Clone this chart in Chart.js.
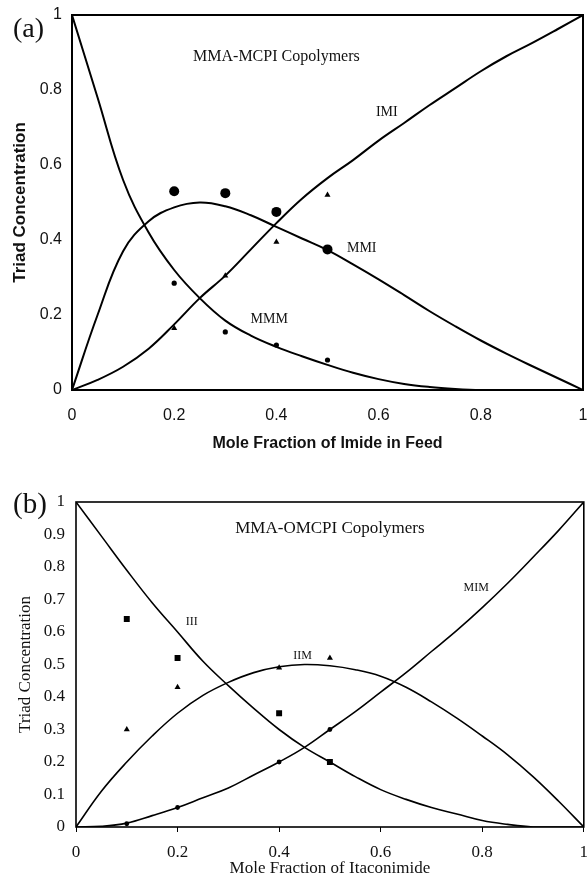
<!DOCTYPE html>
<html>
<head>
<meta charset="utf-8">
<script src="https://cdn.jsdelivr.net/npm/chart.js@4.4.1/dist/chart.umd.min.js"></script>
<style>
  html, body { margin: 0; padding: 0; background: #fff; overflow: hidden; }
  .wrap { position: absolute; left: 0; width: 588px; }
  #wrapA { top: 0; height: 460px; }
  #wrapB { top: 470px; height: 410px; }
</style>
</head>
<body>
<div id="wrapA" class="wrap"><canvas id="chartA"></canvas></div>
<div id="wrapB" class="wrap"><canvas id="chartB"></canvas></div>
<script>
// feed fractions the theory curves were read at
const feed = [0, 0.05, 0.1, 0.15, 0.2, 0.25, 0.3, 0.35, 0.4, 0.45, 0.5,
              0.55, 0.6, 0.65, 0.7, 0.75, 0.8, 0.85, 0.9, 0.95, 1];

// (a) MMA-MCPI copolymers - theory curves
const mmmCurve = [1, 0.78, 0.56, 0.42, 0.32, 0.245, 0.185, 0.145, 0.115, 0.09, 0.067,
                  0.046, 0.029, 0.016, 0.008, 0.003, 0, 0, 0, 0, 0];
const mmiCurve = [0, 0.2, 0.37, 0.45, 0.487, 0.5, 0.49, 0.466, 0.435, 0.404, 0.373,
                  0.335, 0.295, 0.253, 0.21, 0.17, 0.132, 0.097, 0.064, 0.032, 0];
const imiCurve = [0, 0.027, 0.062, 0.11, 0.175, 0.245, 0.305, 0.375, 0.445, 0.51, 0.565,
                  0.613, 0.665, 0.712, 0.76, 0.805, 0.85, 0.89, 0.925, 0.962, 1];
// (a) measured triads
const expFeedA = [0.2, 0.3, 0.4, 0.5];
const mmiExp = [0.53, 0.525, 0.475, 0.375];
const imiExp = [0.165, 0.305, 0.395, 0.52];
const mmmExp = [0.285, 0.155, 0.12, 0.08];

// (b) MMA-OMCPI copolymers - theory curves
const iiiCurve = [1, 0.895, 0.79, 0.69, 0.6, 0.51, 0.435, 0.365, 0.3, 0.245, 0.2,
                  0.155, 0.115, 0.085, 0.06, 0.04, 0.02, 0.008, 0, 0, 0];
const iimCurve = [0, 0.11, 0.2, 0.28, 0.35, 0.405, 0.445, 0.475, 0.493, 0.5, 0.496,
                  0.484, 0.464, 0.43, 0.385, 0.335, 0.28, 0.222, 0.155, 0.08, 0];
const mimCurve = [0, 0.002, 0.012, 0.035, 0.06, 0.09, 0.12, 0.16, 0.2, 0.245, 0.3,
                  0.355, 0.415, 0.475, 0.54, 0.605, 0.675, 0.75, 0.83, 0.912, 1];
// (b) measured triads
const expFeedB = [0.1, 0.2, 0.4, 0.5];
const iiiExp = [0.64, 0.52, 0.35, 0.2];
const iimExp = [0.3, 0.43, 0.49, 0.52];
const mimExp = [0.01, 0.06, 0.2, 0.3];

// tick labels
const ticksFifth = [0, 0.2, 0.4, 0.6, 0.8, 1];
const ticksTenth = [0, 0.1, 0.2, 0.3, 0.4, 0.5, 0.6, 0.7, 0.8, 0.9, 1];

// text written inside the plots, placed in data units
const notesA = [
  { text: 'MMA-MCPI Copolymers', x: 0.4, y: 0.888, size: 16 },
  { text: 'IMI', x: 0.616, y: 0.741, size: 14 },
  { text: 'MMI', x: 0.567, y: 0.379, size: 14 },
  { text: 'MMM', x: 0.386, y: 0.189, size: 14 }
];
const notesB = [
  { text: 'MMA-OMCPI Copolymers', x: 0.5, y: 0.917, size: 17 },
  { text: 'III', x: 0.228, y: 0.63, size: 12 },
  { text: 'IIM', x: 0.446, y: 0.528, size: 12 },
  { text: 'MIM', x: 0.788, y: 0.737, size: 12 }
];

const SANS = "'Liberation Sans', Arial, sans-serif";
const SERIF = "'Liberation Serif', 'Times New Roman', serif";

const pts = (xs, ys) => xs.map((x, i) => ({ x: x, y: ys[i] }));
const fmt = v => String(Math.round(v * 10) / 10);

function curve(ys, width) {
  return {
    data: pts(feed, ys),
    borderColor: '#000',
    borderWidth: width,
    pointRadius: 0,
    fill: false,
    tension: 0.4
  };
}

function marks(xs, ys, style, r) {
  return {
    type: 'scatter',
    data: pts(xs, ys),
    pointStyle: style,
    pointRadius: r,
    backgroundColor: '#000',
    borderColor: '#000',
    borderWidth: 0,
    showLine: false
  };
}

// box round the plot area, notes and the panel letter
const framePlugin = {
  id: 'frame',
  afterDatasetsDraw(chart, args, opts) {
    const { ctx, chartArea: a, scales: { x, y } } = chart;
    ctx.save();
    ctx.strokeStyle = '#000';
    ctx.lineWidth = opts.lineWidth;
    ctx.strokeRect(a.left, a.top, a.right - a.left, a.bottom - a.top);
    ctx.fillStyle = '#111';
    ctx.textAlign = 'center';
    ctx.textBaseline = 'middle';
    opts.notes.forEach(n => {
      ctx.font = n.size + 'px ' + SERIF;
      ctx.fillText(n.text, x.getPixelForValue(n.x), y.getPixelForValue(n.y));
    });
    ctx.textAlign = 'left';
    ctx.font = opts.tagSize + 'px ' + SERIF;
    ctx.fillText(opts.tag, opts.tagX, opts.tagY);
    ctx.restore();
  }
};

// ---------- chart (a) ----------
new Chart(document.getElementById('chartA'), {
  type: 'line',
  data: {
    datasets: [
      curve(mmmCurve, 2),
      curve(mmiCurve, 2),
      curve(imiCurve, 2),
      marks(expFeedA, mmiExp, 'circle', 5),
      marks(expFeedA, imiExp, 'triangle', 3.5),
      marks(expFeedA, mmmExp, 'circle', 2.6)
    ]
  },
  options: {
    responsive: true,
    maintainAspectRatio: false,
    devicePixelRatio: 1,
    animation: false,
    layout: { padding: { top: 15, right: 3, bottom: 0, left: 0 } },
    plugins: {
      legend: { display: false },
      tooltip: { enabled: false },
      frame: { lineWidth: 2, notes: notesA, tag: '(a)', tagSize: 28, tagX: 13, tagY: 30 }
    },
    scales: {
      x: {
        type: 'linear', min: 0, max: 1,
        grid: { display: false, drawTicks: false },
        border: { display: false },
        afterBuildTicks: s => { s.ticks = ticksFifth.map(v => ({ value: v })); },
        afterFit: s => { s.height = 70; s.paddingLeft = 0; s.paddingRight = 0; },
        ticks: { autoSkip: false, maxRotation: 0, padding: 16, color: '#111',
                 font: { family: SANS, size: 16 }, callback: fmt },
        title: { display: true, text: 'Mole Fraction of Imide in Feed', color: '#111',
                 font: { family: SANS, size: 16, weight: 'bold' }, padding: { top: 0, bottom: 7 } }
      },
      y: {
        type: 'linear', min: 0, max: 1,
        grid: { display: false, drawTicks: false },
        border: { display: false },
        afterBuildTicks: s => { s.ticks = ticksFifth.map(v => ({ value: v })); },
        afterFit: s => { s.width = 72; s.paddingTop = 0; s.paddingBottom = 0; },
        ticks: { autoSkip: false, padding: 10, color: '#111',
                 font: { family: SANS, size: 16 }, callback: fmt },
        title: { display: true, text: 'Triad Concentration', color: '#111',
                 font: { family: SANS, size: 17, weight: 'bold' }, padding: { top: 10, bottom: 0 } }
      }
    }
  },
  plugins: [framePlugin]
});

// ---------- chart (b) ----------
new Chart(document.getElementById('chartB'), {
  type: 'line',
  data: {
    datasets: [
      curve(iiiCurve, 1.6),
      curve(iimCurve, 1.6),
      curve(mimCurve, 1.6),
      marks(expFeedB, iiiExp, 'rect', 4.2),
      marks(expFeedB, iimExp, 'triangle', 3.5),
      marks(expFeedB, mimExp, 'circle', 2.4)
    ]
  },
  options: {
    responsive: true,
    maintainAspectRatio: false,
    devicePixelRatio: 1,
    animation: false,
    layout: { padding: { top: 32, right: 3, bottom: 0, left: 0 } },
    plugins: {
      legend: { display: false },
      tooltip: { enabled: false },
      frame: { lineWidth: 1.6, notes: notesB, tag: '(b)', tagSize: 29, tagX: 13, tagY: 35 }
    },
    scales: {
      x: {
        type: 'linear', min: 0, max: 1,
        grid: { display: true, drawOnChartArea: false, drawTicks: true, tickLength: 5, color: '#000' },
        border: { display: false },
        afterBuildTicks: s => { s.ticks = ticksFifth.map(v => ({ value: v })); },
        afterFit: s => { s.height = 53; s.paddingLeft = 0; s.paddingRight = 0; },
        ticks: { autoSkip: false, maxRotation: 0, padding: 10, color: '#111',
                 font: { family: SERIF, size: 17 }, callback: fmt },
        title: { display: true, text: 'Mole Fraction of Itaconimide', color: '#111',
                 font: { family: SERIF, size: 17 }, padding: { top: 0, bottom: 1 } }
      },
      y: {
        type: 'linear', min: 0, max: 1,
        grid: { display: false, drawTicks: false },
        border: { display: false },
        afterBuildTicks: s => { s.ticks = ticksTenth.map(v => ({ value: v })); },
        afterFit: s => { s.width = 76; s.paddingTop = 0; s.paddingBottom = 0; },
        ticks: { autoSkip: false, padding: 11, color: '#111',
                 font: { family: SERIF, size: 17 }, callback: fmt },
        title: { display: true, text: 'Triad Concentration', color: '#111',
                 font: { family: SERIF, size: 17 }, padding: { top: 15, bottom: 0 } }
      }
    }
  },
  plugins: [framePlugin]
});
</script>
</body>
</html>
